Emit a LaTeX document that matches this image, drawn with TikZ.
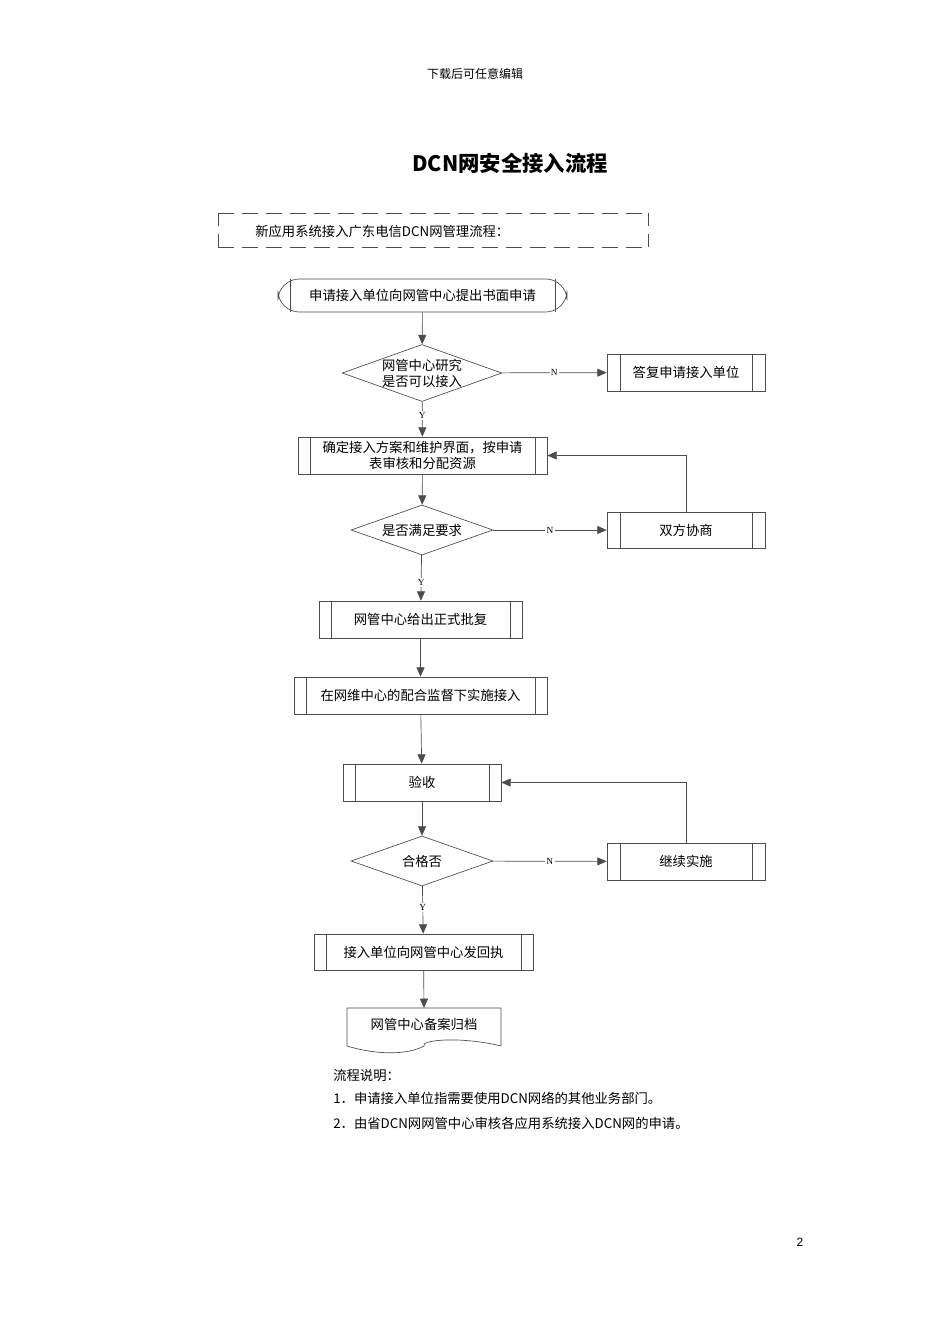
\documentclass[tikz,border=0pt]{standalone}
\usepackage{fontspec}
\setmainfont{Liberation Serif}
\newfontfamily\cjk{Noto Sans CJK SC}
\usetikzlibrary{arrows.meta,shapes.geometric}
\begin{document}
\begin{tikzpicture}[x=0.75pt,y=-0.75pt,
  every node/.style={font=\cjk\fontsize{10}{12}\selectfont,inner sep=0pt},
  ln/.style={draw=black!70,line width=0.5pt},
  arr/.style={ln,-{Triangle[length=7pt,width=6pt]}},
  lab/.style={font=\fontsize{7}{8}\selectfont,fill=white,inner sep=1pt}]
\useasboundingbox (0,0) rectangle (950,1344);
\fill[white] (0,0) rectangle (950,1344);
\node at (475,74) {\fontsize{9}{10}\selectfont 下载后可任意编辑};
\node at (510,163) {\fontsize{16}{18}\selectfont\bfseries DCN网安全接入流程};
% dashed header box
\draw[ln,dash pattern=on 12pt off 6pt] (218,213) -- (648,213) (218,247) -- (648,247);
\draw[ln,dash pattern=on 10pt off 6pt] (218,213) -- (218,247) (648,213) -- (648,247);
\node[anchor=west] (hdr) at (255,231) {新应用系统接入广东电信DCN网管理流程：};
% start
\node[ln,rounded corners=16pt,minimum width=289pt*0.75,minimum height=33pt*0.75] (s) at (422.5,295.5) {申请接入单位向网管中心提出书面申请};
\draw[ln] (290,279) -- (290,312) (555,279) -- (555,312);
% diamond 1
\node[ln,diamond,aspect=2.8,minimum width=142pt*0.75,minimum height=50pt*0.75,align=center] (d1) at (422,373) {网管中心研究\\是否可以接入};
\node[ln,minimum width=158pt*0.75,minimum height=37pt*0.75] (r1) at (686,372.5) {答复申请接入单位};
\draw[ln] (620,354)--(620,391) (752,354)--(752,391);
% box 2
\node[ln,minimum width=249pt*0.75,minimum height=37pt*0.75,align=center] (b2) at (422.5,455.5) {确定接入方案和维护界面，按申请\\表审核和分配资源};
\draw[ln] (310,437)--(310,474) (535,437)--(535,474);
% diamond 2
\node[ln,diamond,aspect=2.8,minimum width=142pt*0.75,minimum height=50pt*0.75] (d2) at (422,530) {是否满足要求};
\node[ln,minimum width=158pt*0.75,minimum height=36pt*0.75] (r2) at (686,530) {双方协商};
\draw[ln] (620,512)--(620,548) (752,512)--(752,548);
% box 3
\node[ln,minimum width=203pt*0.75,minimum height=37pt*0.75] (b3) at (420.5,619.5) {网管中心给出正式批复};
\draw[ln] (331,601)--(331,638) (510,601)--(510,638);
% box 4
\node[ln,minimum width=253pt*0.75,minimum height=37pt*0.75] (b4) at (420.5,695.5) {在网维中心的配合监督下实施接入};
\draw[ln] (306,677)--(306,714) (535,677)--(535,714);
% box 5
\node[ln,minimum width=158pt*0.75,minimum height=37pt*0.75] (b5) at (422,782.5) {验收};
\draw[ln] (355,764)--(355,801) (489,764)--(489,801);
% diamond 3
\node[ln,diamond,aspect=2.8,minimum width=142pt*0.75,minimum height=50pt*0.75] (d3) at (422,861) {合格否};
\node[ln,minimum width=158pt*0.75,minimum height=37pt*0.75] (r3) at (686,861.5) {继续实施};
\draw[ln] (620,843)--(620,880) (752,843)--(752,880);
% box 6
\node[ln,minimum width=219pt*0.75,minimum height=36pt*0.75] (b6) at (423.5,952) {接入单位向网管中心发回执};
\draw[ln] (326,934)--(326,970) (521,934)--(521,970);
% document
\draw[ln] (347,1008) -- (501,1008) -- (501,1046) .. controls (460,1036) and (420,1040) .. (424,1046) .. controls (410,1054) and (380,1056) .. (347,1046) -- cycle;
\node (doc) at (424,1024) {网管中心备案归档};
\coordinate (docT) at (424,1008);
% connectors
\draw[arr] (s) -- (d1);
\draw[arr] (d1) -- node[lab,pos=0.5]{N} (r1);
\draw[arr] (d1) -- node[lab,pos=0.4]{Y} (b2);
\draw[arr] (b2) -- (d2);
\draw[arr] (d2) -- node[lab,pos=0.5]{N} (r2);
\draw[arr] (r2.north) |- (b2.east);
\draw[arr] (d2) -- node[lab,pos=0.6]{Y} (b3);
\draw[arr] (b3) -- (b4);
\draw[arr] (b4) -- (b5);
\draw[arr] (b5) -- (d3);
\draw[arr] (d3) -- node[lab,pos=0.5]{N} (r3);
\draw[arr] (r3.north) |- (b5.east);
\draw[arr] (d3) -- node[lab,pos=0.45]{Y} (b6);
\draw[arr] (b6) -- (docT);
% notes
\node[anchor=west] (n0) at (333,1075) {流程说明：};
\node[anchor=west] (n1) at (333,1098) {1．申请接入单位指需要使用DCN网络的其他业务部门。};
\node[anchor=west] (n2) at (333,1123) {2．由省DCN网网管中心审核各应用系统接入DCN网的申请。};
\node (pg) at (800,1242) {\fontfamily{}\fontspec{Liberation Sans}\fontsize{9}{10}\selectfont 2};
\end{tikzpicture}
\end{document}
